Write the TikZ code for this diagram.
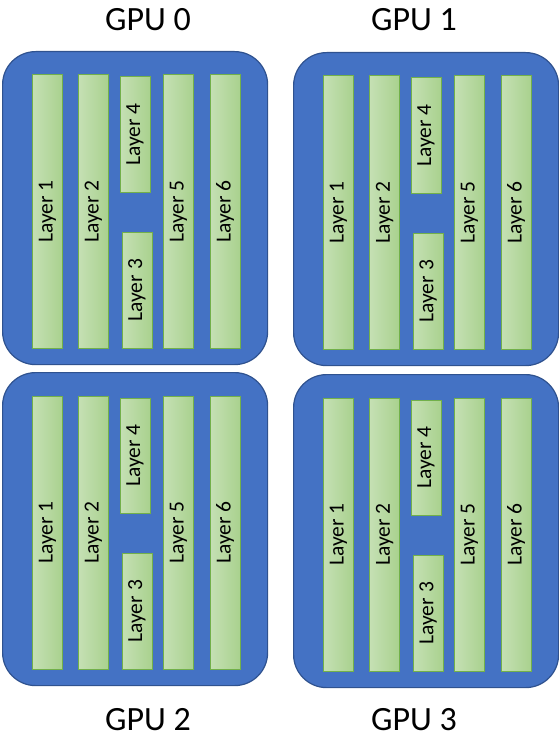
\documentclass[tikz,border=0pt]{standalone}
\usepackage{fontspec}
\setmainfont{Carlito}
\usepackage{graphicx}
\definecolor{gpublue}{HTML}{4472C4}
\definecolor{gpuedge}{HTML}{2F528F}
\definecolor{laylight}{HTML}{C5E0B4}
\definecolor{laydark}{HTML}{A9D18E}
\definecolor{layedge}{HTML}{72B04A}
\tikzset{
  gpubox/.style={draw=gpuedge, line width=1.2pt, fill=gpublue, rounded corners=33pt,
    minimum width=265pt, minimum height=313pt, inner sep=0pt},
  layer/.style={draw=layedge, line width=1pt, left color=laylight, right color=laydark,
    minimum width=30pt, inner sep=0pt, font=\fontsize{21.5}{24}\selectfont},
  gpulabel/.style={font=\fontsize{34}{40}\selectfont, inner sep=0pt}
}
\newcommand\drawgpu[3]{%
\begin{scope}[shift={(#2,#3)}]
  \node[gpubox, anchor=north west] (#1) at (0,0) {};
  \node[layer, anchor=north west, minimum height=273pt] (#1l1) at (30,23.5) {\rotatebox{90}{Layer 1}};
  \node[layer, anchor=north west, minimum height=273pt] (#1l2) at (76,23.5) {\rotatebox{90}{Layer 2}};
  \node[layer, anchor=north west, minimum height=115pt] (#1l4) at (117.5,25.5) {\rotatebox{90}{Layer 4}};
  \node[layer, anchor=north west, minimum height=115.5pt] (#1l3) at (119.5,181) {\rotatebox{90}{Layer 3}};
  \node[layer, anchor=north west, minimum height=273pt] (#1l5) at (161,23.5) {\rotatebox{90}{Layer 5}};
  \node[layer, anchor=north west, minimum height=273pt] (#1l6) at (207.5,23.5) {\rotatebox{90}{Layer 6}};
\end{scope}}
\begin{document}
\begin{tikzpicture}[x=1pt, y=-1pt]
  \useasboundingbox (0,0) rectangle (558,738);
  \drawgpu{g0}{2}{51}
  \drawgpu{g1}{293}{52}
  \drawgpu{g2}{2}{372}
  \drawgpu{g3}{293}{374}
  \node[gpulabel] (t0) at (148,20) {GPU 0};
  \node[gpulabel] (t1) at (414,20) {GPU 1};
  \node[gpulabel] (t2) at (148,719.5) {GPU 2};
  \node[gpulabel] (t3) at (414,719.5) {GPU 3};
\end{tikzpicture}
\end{document}
